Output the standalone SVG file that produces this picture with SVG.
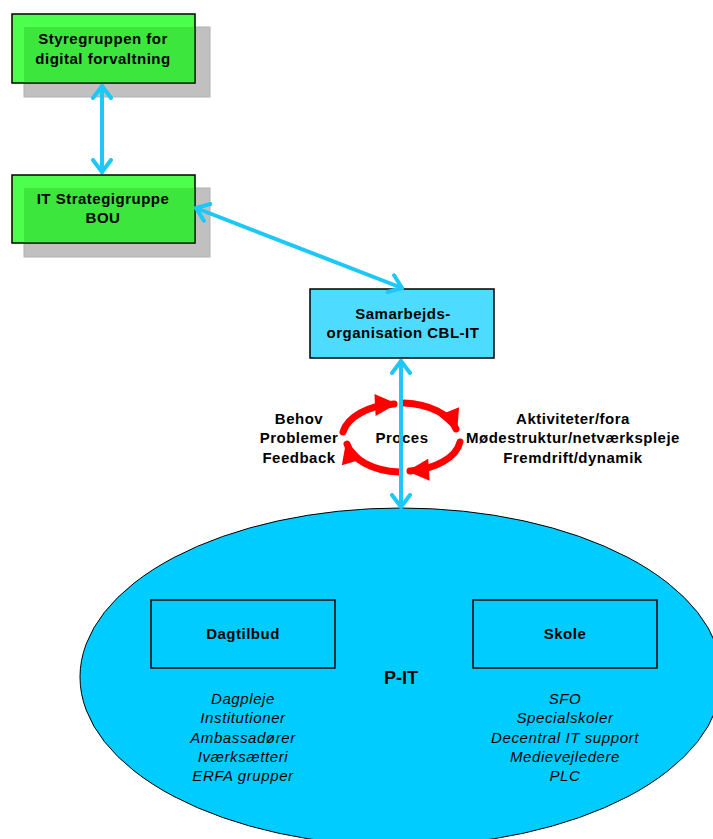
<svg xmlns="http://www.w3.org/2000/svg" width="713" height="839" viewBox="0 0 713 839">
<defs>
<style>
.shadow{fill:#c0c0c0;stroke:#b0b0b0;stroke-width:1}
.green{fill:#4dff4d;stroke:#000;stroke-width:1.5}
.overlap{fill:#3de63d;stroke:none}
.box{fill:#4ddbff;stroke:#000;stroke-width:1.5}
.inner{fill:none;stroke:#000;stroke-width:1.5}
.t{font-family:"Liberation Sans",Arial,sans-serif;font-weight:bold;font-size:15px;letter-spacing:0.5px;text-anchor:middle;fill:#000}
.it{font-family:"Liberation Sans",Arial,sans-serif;font-style:italic;font-size:15px;letter-spacing:0.6px;text-anchor:middle;fill:#000}
.conn{stroke:#1ec8f6;stroke-width:4;fill:none;stroke-linecap:round}
.red{stroke:#ff0000;stroke-width:7;fill:none;stroke-linecap:round}
</style>
<marker id="chev" viewBox="-14 -11 16 22" markerWidth="16" markerHeight="22" refX="0" refY="0" orient="auto-start-reverse" markerUnits="userSpaceOnUse">
<path d="M-12,-9 L0,0 L-12,9" fill="none" stroke="#1ec8f6" stroke-width="4" stroke-linecap="round" stroke-linejoin="round"/>
</marker>
<marker id="redhead" viewBox="-22 -12 26 24" markerWidth="26" markerHeight="24" refX="0" refY="0" orient="auto" markerUnits="userSpaceOnUse">
<path d="M-19,-11 L3,0 L-19,11 Z" fill="#ff0000"/>
</marker>
</defs>

<g id="pit">
<ellipse cx="401" cy="677" rx="321" ry="169" fill="#00ccff" stroke="#000" stroke-width="1"/>
<text class="t" x="401" y="684" style="font-size:18px;letter-spacing:0">P-IT</text>
</g>

<g id="dagtilbud">
<rect class="inner" x="151" y="600" width="184" height="68"/>
<text class="t" x="243" y="639">Dagtilbud</text>
<text class="it" x="243" y="704">Dagpleje</text>
<text class="it" x="243" y="723">Institutioner</text>
<text class="it" x="243" y="743">Ambassadører</text>
<text class="it" x="243" y="762">Iværksætteri</text>
<text class="it" x="243" y="781">ERFA grupper</text>
</g>

<g id="skole">
<rect class="inner" x="473" y="600" width="184" height="68"/>
<text class="t" x="565" y="639">Skole</text>
<text class="it" x="565" y="704">SFO</text>
<text class="it" x="565" y="723">Specialskoler</text>
<text class="it" x="565" y="743">Decentral IT support</text>
<text class="it" x="565" y="762">Medievejledere</text>
<text class="it" x="565" y="781">PLC</text>
</g>

<g id="styregruppen">
<rect class="shadow" x="24" y="27" width="186" height="70"/>
<rect class="green" x="12" y="14" width="183" height="69"/>
<rect class="overlap" x="24" y="27" width="170.2" height="55.2"/>
<text class="t" x="103" y="44">Styregruppen for</text>
<text class="t" x="103" y="64">digital forvaltning</text>
</g>

<g id="itstrategi">
<rect class="shadow" x="24" y="188" width="186" height="69"/>
<rect class="green" x="12" y="175" width="183" height="68"/>
<rect class="overlap" x="24" y="188" width="170.2" height="54.2"/>
<text class="t" x="103" y="204">IT Strategigruppe</text>
<text class="t" x="103" y="223">BOU</text>
</g>

<g id="samarbejds">
<rect class="box" x="310" y="289" width="184" height="69"/>
<text class="t" x="403" y="319">Samarbejds-</text>
<text class="t" x="403" y="338">organisation CBL-IT</text>
</g>

<g id="proces">
<path class="red" d="M343,432 A57,34 0 0 1 394,404" marker-end="url(#redhead)"/>
<path class="red" d="M404,403 A57,34 0 0 1 456,429" marker-end="url(#redhead)"/>
<path class="red" d="M460,442 A57,34 0 0 1 410,471" marker-end="url(#redhead)"/>
<path class="red" d="M399,472 A57,34 0 0 1 347,444" marker-end="url(#redhead)"/>
<text class="t" x="402" y="443">Proces</text>
<text class="t" x="299" y="424">Behov</text>
<text class="t" x="299" y="443">Problemer</text>
<text class="t" x="299" y="463">Feedback</text>
<text class="t" x="573" y="424">Aktiviteter/fora</text>
<text class="t" x="573" y="443">Mødestruktur/netværkspleje</text>
<text class="t" x="573" y="463">Fremdrift/dynamik</text>
</g>

<g id="connectors">
<line class="conn" x1="102" y1="86" x2="102" y2="172" marker-start="url(#chev)" marker-end="url(#chev)"/>
<line class="conn" x1="196" y1="208" x2="402" y2="288" marker-start="url(#chev)" marker-end="url(#chev)"/>
<line class="conn" x1="401" y1="361" x2="401" y2="507" marker-start="url(#chev)" marker-end="url(#chev)"/>
</g>
</svg>
